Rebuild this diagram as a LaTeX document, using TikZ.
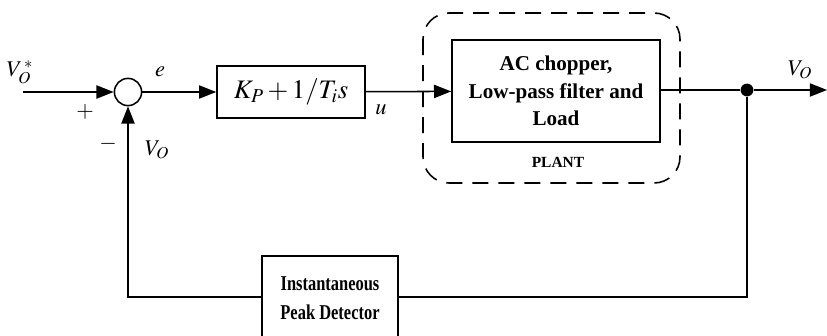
\documentclass[tikz,border=0pt]{standalone}
\usepackage{mathptmx}
\usepackage{fontspec}
\setmainfont{Liberation Serif}
\newfontfamily\condfont[FakeStretch=0.78]{Liberation Serif}
\usetikzlibrary{arrows.meta, positioning, calc}

\begin{document}
\begin{tikzpicture}[x=0.025cm, y=-0.025cm,
  box/.style={draw, line width=1.1pt, fill=white, font=\fontsize{15}{19.5}\selectfont\bfseries, align=center, inner sep=0pt},
  sum/.style={draw, circle, line width=1.1pt, minimum size=0.68cm, inner sep=0pt},
  lab/.style={font=\fontsize{16}{16}\selectfont},
  arr/.style={-{Triangle[length=4.3mm, width=3.3mm]}, line width=1.1pt},
  line/.style={line width=1.1pt}]
\useasboundingbox (0,0) rectangle (827,335);
% forward path
\coordinate (in) at (23,92);
\node[sum] (sum) at (128,92) {};
\node[box, minimum width=3.7cm, minimum height=1.3cm] (ctrl) at (291,92) {\fontsize{19}{19}\selectfont\mdseries $K_P+1/T_i s$};
\node[box, minimum width=5.2cm, minimum height=2.55cm] (plant) at (556,91) {AC chopper,\\ Low-pass filter and\\ Load};
\draw[line, dashed, dash pattern=on 4mm off 2.5mm, rounded corners=0.65cm] (423,13) rectangle (680,183);
\node[font=\fontsize{11}{11}\selectfont\bfseries] (plantlab) at (558,162) {PLANT};
\node[circle, fill, inner sep=0pt, minimum size=0.32cm] (dot) at (747,90) {};
\coordinate (out) at (827,90);
% feedback path
\node[box, minimum width=3.4cm, minimum height=2.1cm, font=\condfont\fontsize{15}{21}\selectfont\bfseries] (det) at (330,298) {Instantaneous\\ Peak Detector};
\coordinate (c1) at (747,297); \coordinate (c2) at (128,297);
% labels
\node[lab] (vref) at (20,72) {$V_O^{\,*}$};
\node[lab] (plus) at (85,112) {$+$};
\node[lab] (minus) at (108,144) {$-$};
\node[lab] (vfb) at (157,150) {$V_O$};
\node[lab] (e) at (160,72) {$e$};
\node[lab] (u) at (381,110) {$u$};
\node[lab] (vout) at (800,70) {$V_O$};
% connectors
\draw[arr] (in) -- (sum); \draw[arr] (sum) -- (ctrl); \draw[arr] (ctrl) -- (plant);
\draw[line] (plant.east |- dot) -- (dot); \draw[arr] (dot) -- (out);
\draw[line] (dot) -- (c1) -- (det.east |- c1); \draw[arr] (det.west |- c2) -- (c2) -- (sum);
\end{tikzpicture}
\end{document}
